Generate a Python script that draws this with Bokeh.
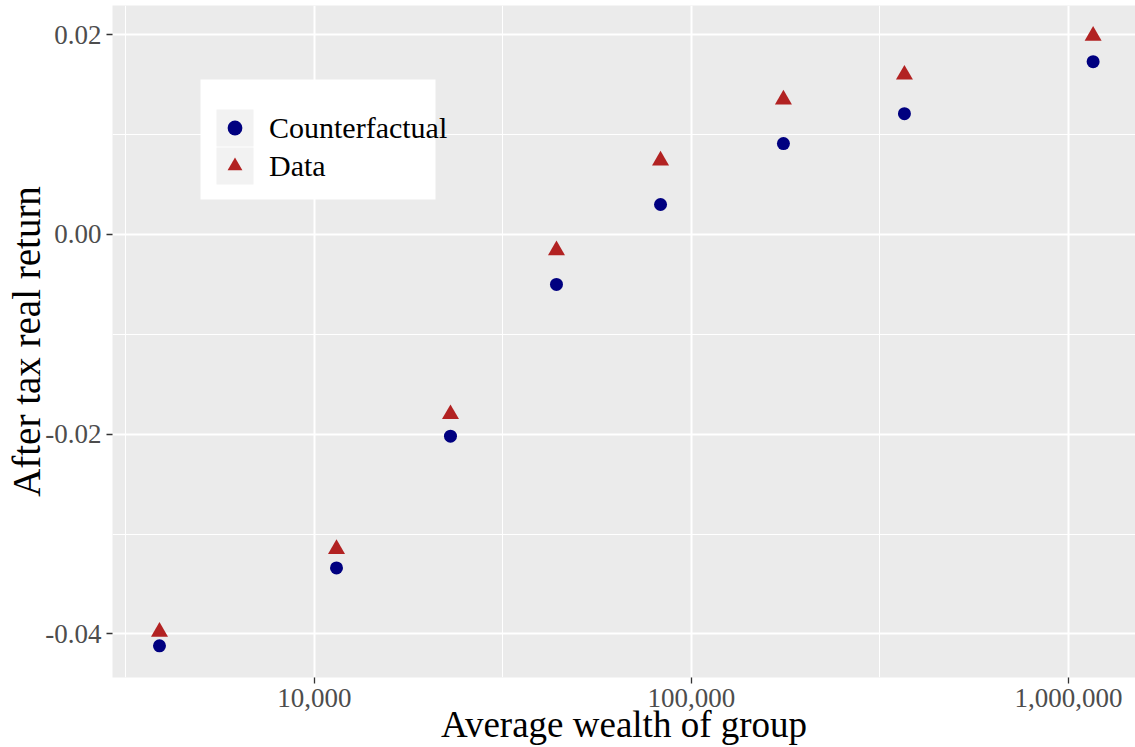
from bokeh.plotting import figure
from bokeh.models import (Range1d, FixedTicker, Legend, LegendItem,
                          BoxAnnotation, ColumnDataSource)
from bokeh.embed import file_html
from bokeh.resources import INLINE

# ---- data ----
wealth = [3880, 11440, 22950, 43850, 82800, 175400, 367300, 1163000]
counterfactual = [-0.0412, -0.0334, -0.0202, -0.0050, 0.0030, 0.0091, 0.0121, 0.0173]
data_return = [-0.0398, -0.0315, -0.0180, -0.0016, 0.0074, 0.0135, 0.0160, 0.0199]
series_names = ["Counterfactual", "Data"]

x_ticks = [1e4, 1e5, 1e6]
x_tick_labels = ["10,000", "100,000", "1,000,000"]
x_minor = [10 ** 3.5, 10 ** 4.5, 10 ** 5.5]
y_ticks = [-0.04, -0.02, 0.0, 0.02]
y_tick_labels = ["-0.04", "-0.02", "0.00", "0.02"]
y_minor = [-0.03, -0.01, 0.01]
x_title = "Average wealth of group"
y_title = "After tax real return"

FONT = "Liberation Serif"

src = ColumnDataSource(dict(wealth=wealth, cf=counterfactual, dt=data_return))

p = figure(width=1135, height=747, x_axis_type="log",
           x_range=Range1d(10 ** 3.4642, 10 ** 6.178),
           y_range=Range1d(-0.04437, 0.02293),
           output_backend="svg", toolbar_location=None,
           min_border_left=112, min_border_right=0,
           min_border_top=5, min_border_bottom=70)

p.background_fill_color = "#EBEBEB"
p.border_fill_color = "white"
p.outline_line_color = None

p.xaxis.ticker = FixedTicker(ticks=x_ticks, minor_ticks=x_minor)
p.yaxis.ticker = FixedTicker(ticks=y_ticks, minor_ticks=y_minor)
p.xaxis.major_label_overrides = {v: l for v, l in zip(x_ticks, x_tick_labels)}
p.yaxis.major_label_overrides = {v: l for v, l in zip(y_ticks, y_tick_labels)}

for g in (p.xgrid, p.ygrid):
    g.grid_line_color = "white"
    g.grid_line_width = 2
    g.minor_grid_line_color = "white"
    g.minor_grid_line_width = 1

for ax in (p.xaxis, p.yaxis):
    ax.axis_line_color = None
    ax.major_tick_line_color = "#333333"
    ax.major_tick_line_width = 1.3
    ax.major_tick_out = 6
    ax.major_tick_in = 0
    ax.minor_tick_line_color = None
    ax.major_label_text_color = "#4D4D4D"
    ax.major_label_text_font = FONT
    ax.major_label_text_font_size = "27px"
    ax.axis_label_text_font = FONT
    ax.axis_label_text_font_style = "normal"
    ax.axis_label_text_color = "black"

p.xaxis.major_label_standoff = 5
p.yaxis.major_label_standoff = 5

p.xaxis.axis_label = x_title
p.xaxis.axis_label_text_font_size = "37px"
p.xaxis.axis_label_standoff = -6

p.yaxis.axis_label = y_title
p.yaxis.axis_label_text_font_size = "39px"
p.yaxis.axis_label_standoff = -6

r_cf = p.scatter(x="wealth", y="cf", source=src, marker="circle", size=13,
                 fill_color="#000080", line_color=None)
r_dt = p.scatter(x="wealth", y="dt", source=src, marker="triangle", size=17,
                 fill_color="#B22222", line_color=None)


def screen_box(left, right, top, bottom, color):
    return BoxAnnotation(left=left, right=right, top=top, bottom=bottom,
                         left_units="screen", right_units="screen",
                         top_units="screen", bottom_units="screen",
                         fill_color=color, fill_alpha=1, line_color=None)


# legend background and key boxes (frame-relative pixels, y upward)
p.add_layout(screen_box(88, 323, 598, 478, "white"))
p.add_layout(screen_box(104, 141, 568, 531, "#F2F2F2"))
p.add_layout(screen_box(104, 141, 530, 493, "#F2F2F2"))

legend = Legend(items=[LegendItem(label=series_names[0], renderers=[r_cf]),
                       LegendItem(label=series_names[1], renderers=[r_dt])],
                location=(104, 493), padding=0, margin=0, spacing=1,
                glyph_width=37, glyph_height=37, label_height=37,
                label_standoff=16, label_text_font=FONT,
                label_text_font_size="30px", label_text_color="black",
                background_fill_alpha=0, border_line_color=None)
p.add_layout(legend)

open("out.html", "w").write(file_html(p, INLINE))
